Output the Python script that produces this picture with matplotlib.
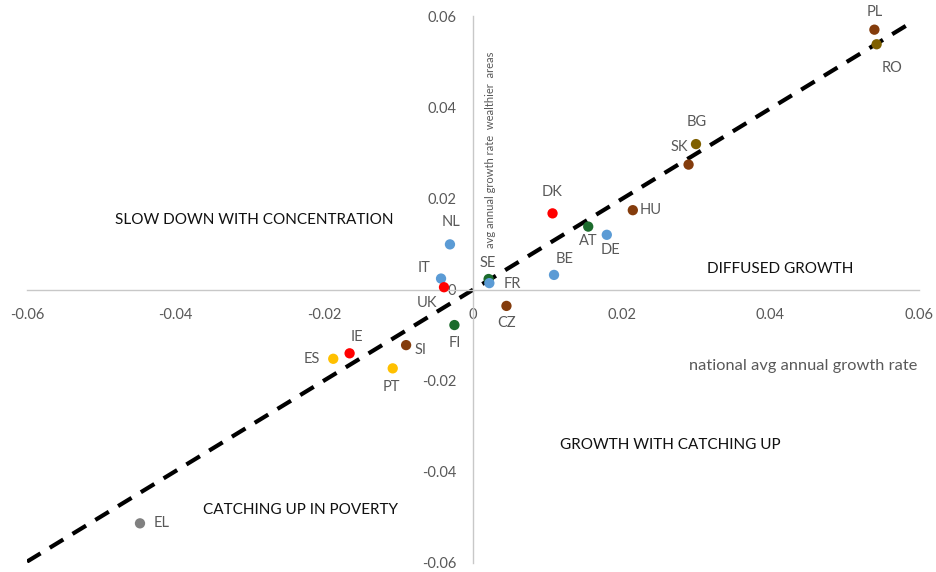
import matplotlib
matplotlib.use("Agg")
import matplotlib.pyplot as plt

# country codes, national growth (x), wealthier-areas growth (y)
countries = ["PL", "RO", "BG", "SK", "HU", "DE", "DK", "AT", "BE", "SE", "FR",
             "NL", "IT", "UK", "CZ", "FI", "SI", "PT", "IE", "ES", "EL"]
national = [0.0540, 0.0543, 0.0300, 0.0290, 0.0215, 0.0180, 0.0107, 0.0155,
            0.0109, 0.0021, 0.0022, -0.0031, -0.0043, -0.0039, 0.0045,
            -0.0025, -0.0090, -0.0108, -0.0166, -0.0188, -0.0448]
wealthier = [0.0570, 0.0538, 0.0319, 0.0274, 0.0174, 0.0120, 0.0167, 0.0138,
             0.0032, 0.0023, 0.0014, 0.0099, 0.0024, 0.0005, -0.0036,
             -0.0078, -0.0122, -0.0173, -0.0140, -0.0152, -0.0513]
groups = ["brown", "olive", "olive", "brown", "brown", "blue", "red", "green",
          "blue", "green", "blue", "blue", "blue", "red", "brown",
          "green", "brown", "gold", "red", "gold", "grey"]

# trend line end points
trend_x = [-0.0600, 0.0588]
trend_y = [-0.0597, 0.0584]

quadrants = ["SLOW DOWN WITH CONCENTRATION", "DIFFUSED GROWTH",
             "GROWTH WITH CATCHING UP", "CATCHING UP IN POVERTY"]
ticks = [-0.06, -0.04, -0.02, 0, 0.02, 0.04, 0.06]
tick_labels = ["-0.06", "-0.04", "-0.02", "0", "0.02", "0.04", "0.06"]

COLORS = {
    "blue": "#5B9BD5", "red": "#FF0000", "green": "#1B6B2C",
    "brown": "#843C0C", "olive": "#7F6000", "gold": "#FFC000", "grey": "#808080",
}
TXT = "#595959"

# label offsets in pixels (dx, dy), relative to the point
OFFSETS = {
    "PL": (0, 18), "RO": (15, -24), "BG": (1, 22), "SK": (-9, 18),
    "HU": (18, 0), "DE": (4, -15), "DK": (0, 21), "AT": (0, -14),
    "BE": (11, 16), "SE": (-1, 16), "FR": (23, -1), "NL": (1, 22),
    "IT": (-17, 11), "UK": (-17, -16), "CZ": (0, -17), "FI": (0, -18),
    "SI": (14, -5), "PT": (-1, -19), "IE": (7, 16), "ES": (-21, 0),
    "EL": (22, 0),
}

plt.rcParams["font.family"] = ["Lato", "DejaVu Sans"]

fig = plt.figure(figsize=(9.37, 5.72), dpi=100)
ax = fig.add_axes([27 / 937, 9 / 572, 892 / 937, 547 / 572])
ax.set_xlim(-0.06, 0.06)
ax.set_ylim(-0.06, 0.06)

for s in ("top", "right"):
    ax.spines[s].set_visible(False)
for s in ("left", "bottom"):
    ax.spines[s].set_position(("data", 0))
    ax.spines[s].set_color("#C8C8C8")
    ax.spines[s].set_linewidth(1.0)

ax.set_xticks(ticks)
ax.set_xticklabels(tick_labels)
ax.set_yticks(ticks)
ax.set_yticklabels(tick_labels)
ax.tick_params(length=0, labelsize=10.5, labelcolor=TXT)
ax.tick_params(axis="x", pad=13)
ax.tick_params(axis="y", pad=12)

ax.plot(trend_x, trend_y, color="black", lw=3, ls=(0, (3.8, 2.6)), zorder=2)

ax.scatter(national, wealthier, s=55, c=[COLORS[g] for g in groups],
           edgecolors="none", zorder=3)

for name, x, y in zip(countries, national, wealthier):
    dx, dy = OFFSETS[name]
    ax.annotate(name, (x, y), xytext=(dx, dy), textcoords="offset pixels",
                ha="center", va="center", fontsize=10.5, color=TXT, zorder=4)

qpos = [(-0.0294, 0.0152), (0.0413, 0.0045), (0.0265, -0.0342), (-0.0232, -0.0484)]
for label, (qx, qy) in zip(quadrants, qpos):
    ax.text(qx, qy, label, ha="center", va="center", fontsize=11, color="#111111")

ax.text(0.0598, -0.0168, "national avg annual growth rate", ha="right",
        va="center", fontsize=11.8, color=TXT)
ax.text(0.0023, 0.0307, "avg annual growth rate  wealthier  areas", rotation=90,
        ha="center", va="center", fontsize=8, color=TXT)

fig.savefig("out.png", dpi=100, facecolor="white")
